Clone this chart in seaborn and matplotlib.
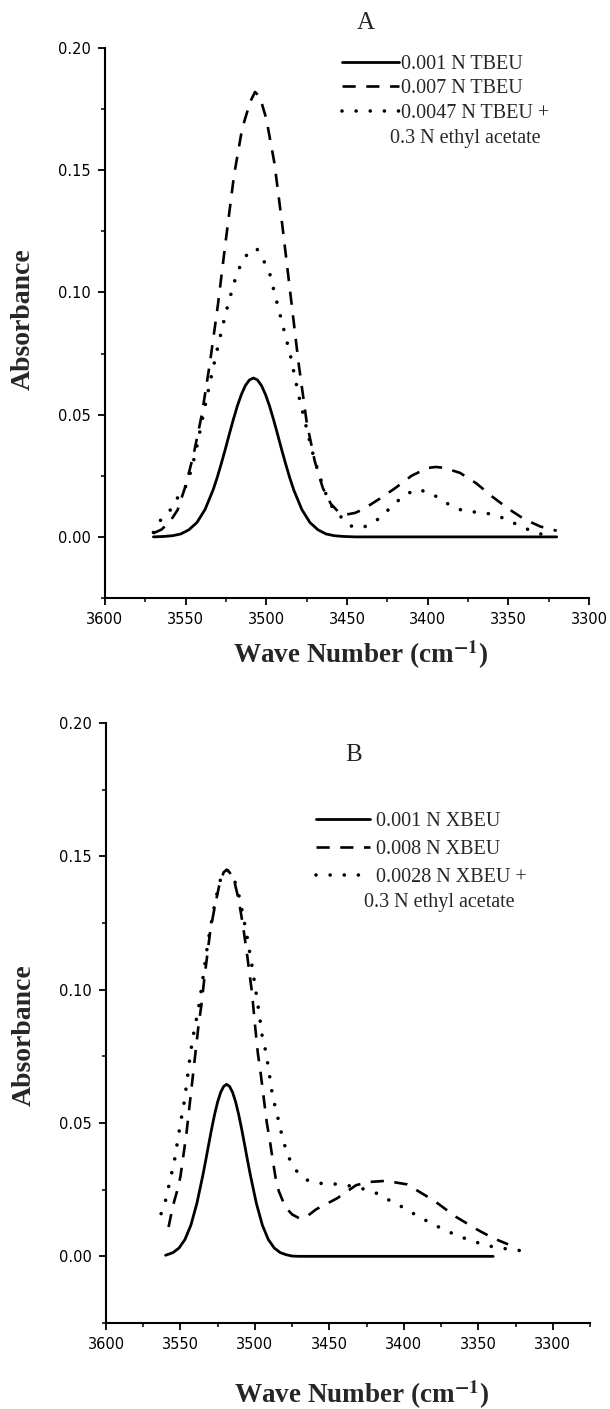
import matplotlib
matplotlib.use("Agg")
import matplotlib.pyplot as plt
import seaborn as sns
from matplotlib.ticker import MultipleLocator, FormatStrFormatter

# ---------------- Panel A data (TBEU) ----------------
a_solid_x = [3570, 3563, 3558, 3553, 3548, 3543, 3538, 3533, 3530.5, 3528, 3525.5, 3523, 3520.5, 3518, 3515.5,
             3513, 3510.5, 3508, 3505.5, 3503, 3500.5, 3498, 3495.5, 3493, 3490.5, 3488, 3485.5, 3483,
             3478, 3473, 3468, 3463, 3458, 3453, 3445, 3320]
a_solid_y = [0.0, 0.0002, 0.0005, 0.0012, 0.0029, 0.0059, 0.0112, 0.0192, 0.0242, 0.0298, 0.0357, 0.0419, 0.0479,
             0.0535, 0.0582, 0.0619, 0.0642, 0.0650, 0.0642, 0.0619, 0.0582, 0.0535, 0.0479, 0.0419, 0.0357, 0.0298,
             0.0242, 0.0192, 0.0112, 0.0059, 0.0029, 0.0012, 0.0005, 0.0002, 0.0, 0.0]

a_dash_x = [3570, 3565, 3560, 3555, 3550, 3545, 3540, 3535, 3530, 3525, 3520, 3515, 3510, 3507, 3504,
            3500, 3495, 3490, 3485, 3480, 3475, 3470, 3465, 3460, 3455, 3450, 3445, 3440, 3430, 3420,
            3410, 3400, 3395, 3390, 3380, 3370, 3360, 3350, 3340, 3330, 3320]
a_dash_y = [0.0015, 0.003, 0.006, 0.011, 0.021, 0.034, 0.050, 0.071, 0.095, 0.122, 0.148, 0.167, 0.178, 0.182, 0.180,
            0.171, 0.153, 0.127, 0.099, 0.071, 0.047, 0.031, 0.020, 0.0135, 0.010, 0.0092, 0.0098, 0.0113, 0.0155, 0.020,
            0.0250, 0.0282, 0.0286, 0.0283, 0.0262, 0.0220, 0.0165, 0.0115, 0.0072, 0.0042, 0.0025]

a_dot_x = [3570, 3566, 3560, 3555, 3551, 3548, 3544, 3540, 3535, 3530, 3525, 3520, 3515, 3510, 3506,
           3502, 3498, 3495, 3490, 3485, 3480, 3476, 3472, 3468, 3464, 3460, 3455, 3448, 3440, 3430,
           3423, 3415, 3407, 3398, 3390, 3381, 3373, 3364, 3355, 3345, 3336, 3328]
a_dot_y = [0.0018, 0.0065, 0.0105, 0.016, 0.019, 0.024, 0.034, 0.047, 0.063, 0.078, 0.092, 0.104, 0.113, 0.117, 0.118,
           0.1135, 0.108, 0.100, 0.087, 0.074, 0.058, 0.047, 0.036, 0.027, 0.019, 0.013, 0.009, 0.0045, 0.0038, 0.0075,
           0.012, 0.0168, 0.0195, 0.018, 0.0144, 0.0113, 0.0103, 0.0098, 0.0082, 0.0052, 0.0025, 0.0008]

a_labels = ["0.001 N TBEU", "0.007 N TBEU", "0.0047 N TBEU +"]
a_extra = "0.3 N ethyl acetate"

# ---------------- Panel B data (XBEU) ----------------
b_solid_x = [3560, 3555, 3551, 3547, 3543, 3539, 3535, 3533, 3531, 3529, 3527, 3525, 3523, 3521, 3519,
             3517, 3515, 3513, 3511, 3509, 3507, 3505, 3503, 3499, 3495, 3491, 3487, 3483, 3479, 3475, 3470, 3340]
b_solid_y = [0.0004, 0.0014, 0.0031, 0.0063, 0.0117, 0.0198, 0.0303, 0.0361, 0.0421, 0.0480, 0.0534, 0.0580, 0.0615,
             0.0637, 0.0645, 0.0637, 0.0615, 0.0580, 0.0534, 0.0480, 0.0421, 0.0361, 0.0303, 0.0198, 0.0117, 0.0063,
             0.0031, 0.0014, 0.0006, 0.0001, 0.0, 0.0]

b_dash_x = [3558, 3555, 3552, 3550, 3548, 3546, 3544, 3542, 3540, 3538, 3536, 3534, 3532, 3530, 3527, 3524,
            3521, 3519, 3517, 3514, 3511, 3508, 3505, 3502, 3500, 3498, 3496, 3494, 3492, 3490, 3488, 3486,
            3484, 3481, 3478, 3475, 3470, 3465, 3459, 3445, 3432, 3423, 3412, 3398, 3380, 3365, 3350, 3340, 3330]
b_dash_y = [0.011, 0.019, 0.025, 0.030, 0.038, 0.046, 0.056, 0.066, 0.076, 0.086, 0.094, 0.104, 0.113, 0.122, 0.131,
            0.139, 0.144, 0.145, 0.144, 0.141, 0.134, 0.124, 0.112, 0.099, 0.087, 0.076, 0.068, 0.059, 0.050, 0.0435,
            0.036, 0.029, 0.0245, 0.0204, 0.0175, 0.0157, 0.0142, 0.0150, 0.0176, 0.0217, 0.0267, 0.0279, 0.0283,
            0.0270, 0.021, 0.0148, 0.0098, 0.0068, 0.0045]

b_dot_x = [3563, 3560, 3558, 3556, 3554, 3552, 3550, 3548, 3546, 3544, 3542, 3540, 3538, 3536, 3534, 3532,
           3530, 3527, 3524, 3521, 3519, 3517, 3514, 3511, 3508, 3505, 3502, 3499, 3497, 3495, 3493, 3491,
           3489, 3487, 3485, 3483, 3481, 3478, 3475, 3472, 3468, 3464, 3455, 3446, 3436, 3428, 3418, 3410,
           3400, 3391, 3382, 3373, 3363, 3354, 3345, 3335, 3325, 3315]
b_dot_y = [0.016, 0.021, 0.026, 0.031, 0.036, 0.043, 0.050, 0.056, 0.064, 0.073, 0.081, 0.087, 0.0925, 0.100, 0.108,
           0.116, 0.123, 0.132, 0.140, 0.144, 0.145, 0.144, 0.1415, 0.136, 0.128, 0.119, 0.109, 0.098, 0.0905, 0.082,
           0.0775, 0.071, 0.063, 0.0575, 0.053, 0.048, 0.0435, 0.038, 0.0345, 0.0320, 0.0298, 0.0283, 0.0273, 0.0271,
           0.0264, 0.0254, 0.0236, 0.0211, 0.0182, 0.0152, 0.0125, 0.0100, 0.0075, 0.0058, 0.0041, 0.0031, 0.0024,
           0.0016]

b_labels = ["0.001 N XBEU", "0.008 N XBEU", "0.0028 N XBEU +"]
b_extra = "0.3 N ethyl acetate"

x_major = [3600, 3550, 3500, 3450, 3400, 3350, 3300]
y_major = [0.00, 0.05, 0.10, 0.15, 0.20]

# ---------------- styling ----------------
sns.set_style("ticks")
plt.rcParams["font.family"] = ["DejaVu Sans"]
plt.rcParams["mathtext.fontset"] = "stix"

W, H = 610, 1409
fig = plt.figure(figsize=(W / 100, H / 100), dpi=100)
axA = fig.add_axes([105 / W, 1 - 598 / H, 484 / W, 550 / H])
axB = fig.add_axes([106 / W, 1 - 1323 / H, 484 / W, 600 / H])

SERIF = ["Liberation Serif", "DejaVu Serif"]
solid_kw = dict(lw=2.0, linestyle="-")
dash_kw = dict(lw=1.9, linestyle=(0, (5.0, 4.0)), dash_capstyle="butt")
dot_kw = dict(lw=2.6, linestyle=(0, (0.01, 3.9)), dash_capstyle="round")

xlab_y = {}


def panel(ax, data, labels, extra, xlim, leg_anchor, leg_hl, leg_pad, leg_sp, extra_pos, ylab_y):
    for (x, y), kw, lab in zip(data, [solid_kw, dash_kw, dot_kw], labels):
        sns.lineplot(x=x, y=y, ax=ax, color="black", sort=False, estimator=None,
                     label=lab, legend=False, **kw)
    ax.set_xlim(*xlim)
    ax.set_ylim(-0.025, 0.20)
    ax.set_xticks(x_major)
    ax.xaxis.set_minor_locator(MultipleLocator(25))
    ax.set_yticks(y_major)
    ax.yaxis.set_minor_locator(MultipleLocator(0.025))
    ax.yaxis.set_major_formatter(FormatStrFormatter("%.2f"))
    ax.xaxis.set_major_formatter(FormatStrFormatter("%d"))
    sns.despine(ax=ax)
    for s in ["left", "bottom"]:
        ax.spines[s].set_linewidth(1.5)
        ax.spines[s].set_color("black")
    ax.tick_params(which="major", direction="out", length=5, width=1.3, labelsize=10.5,
                   colors="black", pad=5)
    ax.tick_params(which="minor", direction="out", length=3, width=1.1, colors="black")
    ax.set_xlabel(r"Wave Number (cm$^{\mathbf{-1}}$)", family=SERIF, weight="bold", size=19.5, va="center")
    ax.set_ylabel("Absorbance", family=SERIF, weight="bold", size=20, va="center")
    ax.xaxis.set_label_coords(0.529, xlab_y[ax])
    ax.yaxis.set_label_coords(-0.169, ylab_y)
    ax.legend(handles=ax.lines[:3], labels=labels, loc="upper left", bbox_to_anchor=leg_anchor,
              frameon=False, borderpad=0, borderaxespad=0, handlelength=leg_hl,
              handletextpad=leg_pad, labelspacing=leg_sp,
              prop={"family": SERIF, "size": 14.5})
    ax.text(extra_pos[0], extra_pos[1], extra, transform=ax.transAxes, ha="left", va="center",
            family=SERIF, size=14.5)


xlab_y[axA] = (598 - 655) / 550
xlab_y[axB] = (1323 - 1395) / 600

panel(axA, [(a_solid_x, a_solid_y), (a_dash_x, a_dash_y), (a_dot_x, a_dot_y)], a_labels, a_extra,
      (3600, 3300), (0.4897, 0.988), 2.85, 0.1, 0.27, (0.589, 0.836), 0.507)
panel(axB, [(b_solid_x, b_solid_y), (b_dash_x, b_dash_y), (b_dot_x, b_dot_y)], b_labels, b_extra,
      (3600, 3275), (0.434, 0.852), 2.7, 0.27, 0.44, (0.533, 0.700), 0.48)

fig.text(366 / W, 1 - 23 / H, "A", family=SERIF, size=18, ha="center", va="center")
fig.text(354 / W, 1 - 755 / H, "B", family=SERIF, size=18, ha="center", va="center")

fig.savefig("out.png", dpi=100)
